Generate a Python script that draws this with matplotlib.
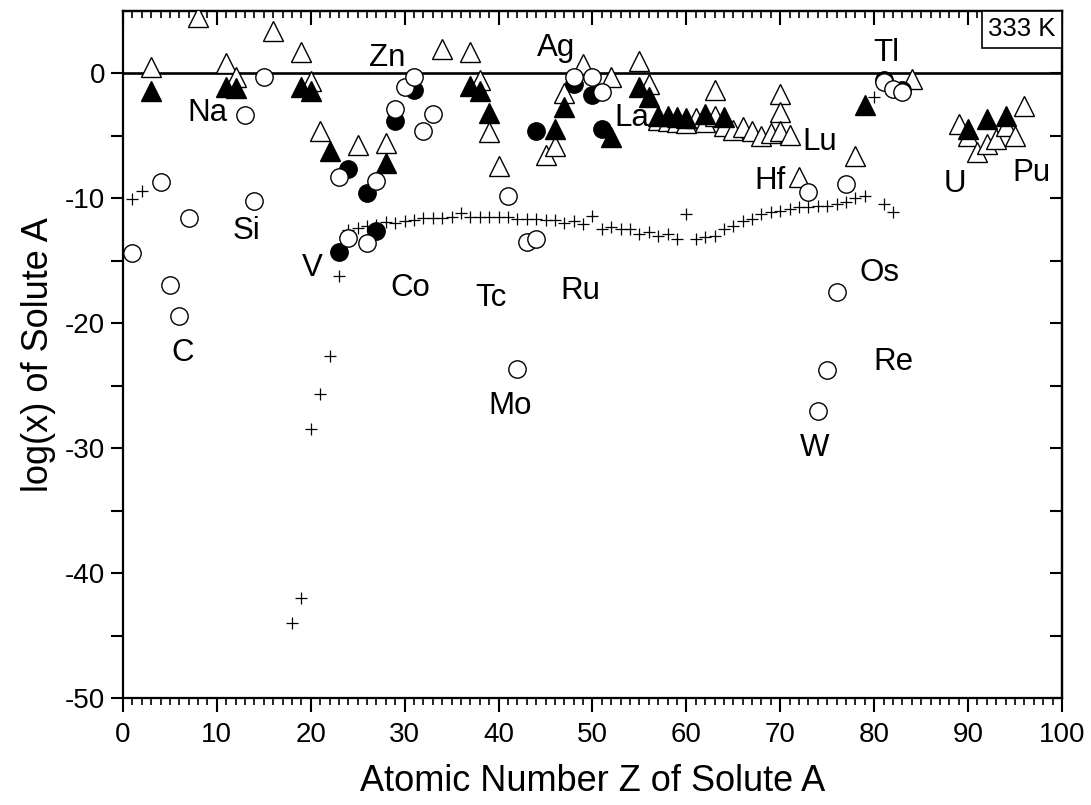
import matplotlib
matplotlib.use("Agg")
import matplotlib.pyplot as plt
from matplotlib.offsetbox import AnchoredText

plt.rcParams['font.family'] = ['Liberation Sans', 'DejaVu Sans']
plt.rcParams['axes.unicode_minus'] = False

# open triangles
open_tri_z = [3, 8, 11, 12, 16, 19, 20, 21, 25, 28, 34, 37, 38, 39, 40, 45, 46, 47, 49,
              52, 55, 56, 57, 58, 59, 60, 61, 62, 63, 63, 64, 65, 66, 67, 68, 69, 70, 70,
              70, 71, 72, 78, 84, 89, 90, 91, 92, 93, 94, 95, 96]
open_tri_v = [0.5, 4.5, 0.8, -0.3, 3.4, 1.7, -0.6, -4.6, -5.7, -5.6, 1.95, 1.7, -0.5, -4.7,
              -7.4, -6.5, -5.8, -1.6, 0.75, -0.26, 1.0, -0.85, -3.7, -3.8, -3.9, -4.0, -3.6,
              -3.9, -1.3, -3.4, -4.2, -4.5, -4.3, -4.6, -5.0, -4.8, -1.65, -3.1, -4.6, -4.9,
              -8.3, -6.6, -0.45, -4.05, -5.0, -6.3, -5.65, -5.25, -4.2, -5.0, -2.6]

# filled triangles
fill_tri_z = [3, 11, 12, 19, 20, 22, 28, 37, 38, 39, 46, 47, 52, 55, 56, 57, 58, 59, 60,
              62, 64, 79, 90, 92, 94]
fill_tri_v = [-1.4, -1.1, -1.2, -1.1, -1.4, -6.2, -7.2, -1.0, -1.4, -3.2, -4.45, -2.66,
              -5.06, -1.06, -1.9, -3.4, -3.4, -3.45, -3.6, -3.25, -3.5, -2.5, -4.45, -3.65,
              -3.4]

# open circles
open_circ_z = [1, 4, 5, 6, 7, 13, 14, 15, 23, 24, 26, 27, 29, 30, 31, 32, 33, 41, 42, 43,
               44, 48, 50, 51, 73, 74, 75, 76, 77, 81, 82, 83]
open_circ_v = [-14.4, -8.7, -16.9, -19.4, -11.6, -3.3, -10.2, -0.3, -8.3, -13.2, -13.6,
               -8.6, -2.85, -1.1, -0.3, -4.6, -3.25, -9.8, -23.65, -13.5, -13.25, -0.26,
               -0.3, -1.5, -9.5, -27.0, -23.7, -17.5, -8.85, -0.7, -1.25, -1.45]

# filled circles
fill_circ_z = [23, 24, 26, 27, 29, 31, 44, 48, 50, 51, 81, 83]
fill_circ_v = [-14.3, -7.65, -9.6, -12.6, -3.8, -1.3, -4.6, -0.85, -1.7, -4.45, -0.5, -1.3]

# plus markers
plus_z = [1, 2, 18, 19, 20, 21, 22, 23, 24, 25, 26, 27, 28, 29, 30, 31, 32, 33, 34, 35,
          36, 37, 38, 39, 40, 41, 42, 43, 44, 45, 46, 47, 48, 49, 50, 51, 52, 53, 54, 55,
          56, 57, 58, 59, 60, 61, 62, 63, 64, 65, 66, 67, 68, 69, 70, 71, 72, 73, 74, 75,
          76, 77, 78, 79, 80, 81, 82]
plus_v = [-10.05, -9.4, -44.0, -42.0, -28.5, -25.7, -22.6, -16.2, -12.5, -12.4, -12.2,
          -12.1, -11.9, -12.0, -11.8, -11.7, -11.6, -11.6, -11.6, -11.45, -11.2, -11.45,
          -11.45, -11.45, -11.5, -11.45, -11.65, -11.65, -11.65, -11.7, -11.75, -12.0,
          -11.8, -12.05, -11.4, -12.45, -12.3, -12.45, -12.45, -12.85, -12.7, -13.0,
          -12.85, -13.25, -11.25, -13.25, -13.1, -13.0, -12.45, -12.2, -11.8, -11.65,
          -11.25, -11.1, -11.0, -10.85, -10.7, -10.7, -10.6, -10.6, -10.45, -10.3, -9.95,
          -9.8, -1.9, -10.45, -11.1]

labels = ['Na', 'Zn', 'Ag', 'La', 'Tl', 'Lu', 'Hf', 'U', 'Pu', 'Si', 'V', 'Co', 'Tc',
          'Ru', 'C', 'Mo', 'Os', 'Re', 'W']
label_z = [9.05, 28.1, 46.1, 54.2, 81.3, 74.2, 68.9, 88.6, 96.7, 13.2, 20.2, 30.6, 39.2,
           48.7, 6.4, 41.2, 80.6, 82.0, 73.7]
label_v = [-3.15, 1.25, 2.05, -3.55, 1.65, -5.45, -8.6, -8.85, -7.95, -12.6, -15.6, -17.2,
           -17.95, -17.4, -22.4, -26.6, -16.0, -23.1, -30.0]


def plot_solubility():
    fig = plt.figure(figsize=(10.91, 8.05), dpi=100)
    ax = fig.add_axes([0.1127, 0.1329, 0.8607, 0.8534])

    ax.axhline(0, color='black', lw=1.9, zorder=1)

    ax.plot(plus_z, plus_v, '+', color='black', ms=9, mew=0.9, ls='none', zorder=2)
    ax.plot(open_tri_z, open_tri_v, '^', mfc='white', mec='black', ms=14, mew=1.0,
            ls='none', zorder=3)
    ax.plot(fill_tri_z, fill_tri_v, '^', mfc='black', mec='black', ms=14, mew=1.0,
            ls='none', zorder=4)
    ax.plot(fill_circ_z, fill_circ_v, 'o', mfc='black', mec='black', ms=12.5, mew=1.0,
            ls='none', zorder=5)
    ax.plot(open_circ_z, open_circ_v, 'o', mfc='white', mec='black', ms=12.5, mew=1.0,
            ls='none', zorder=6)

    for name, z, v in zip(labels, label_z, label_v):
        ax.text(z, v, name, fontsize=22.5, ha='center', va='center', zorder=7)

    box = AnchoredText('333 K', loc='upper right', prop=dict(size=18.5), frameon=True,
                       pad=0.25, borderpad=0)
    box.patch.set_linewidth(1.2)
    box.set_zorder(8)
    ax.add_artist(box)

    ax.set_xlim(0, 100)
    ax.set_ylim(-50, 5)
    ax.set_xticks(range(0, 101, 10))
    ax.set_xticks(range(0, 101, 1), minor=True)
    ax.set_yticks(range(-50, 1, 10))
    ax.set_yticks(range(-45, 5, 10), minor=True)

    for s in ax.spines.values():
        s.set_linewidth(1.6)

    ax.tick_params(axis='x', which='major', direction='out', length=10, width=1.5,
                   labelsize=20, pad=7)
    ax.tick_params(axis='x', which='minor', direction='out', length=5, width=1.2)
    ax.tick_params(axis='y', which='both', direction='out', length=9, width=1.5,
                   labelsize=20, pad=4)

    top = ax.secondary_xaxis('top')
    top.set_xticks(range(0, 101, 10))
    top.set_xticks(range(0, 101, 1), minor=True)
    top.tick_params(which='major', direction='in', length=10, width=1.5, labeltop=False)
    top.tick_params(which='minor', direction='in', length=5, width=1.2)
    top.spines['top'].set_linewidth(1.6)

    right = ax.secondary_yaxis('right')
    right.set_yticks(range(-50, 6, 5))
    right.tick_params(which='major', direction='in', length=9, width=1.5,
                      labelright=False)
    right.spines['right'].set_linewidth(1.6)

    ax.set_xlabel('Atomic Number Z of Solute A', fontsize=26, labelpad=12)
    ax.set_ylabel('log(x) of Solute A', fontsize=26, labelpad=6)

    fig.savefig('out.png', dpi=100)
    plt.close(fig)


def main():
    plot_solubility()


if __name__ == "__main__":
    main()
